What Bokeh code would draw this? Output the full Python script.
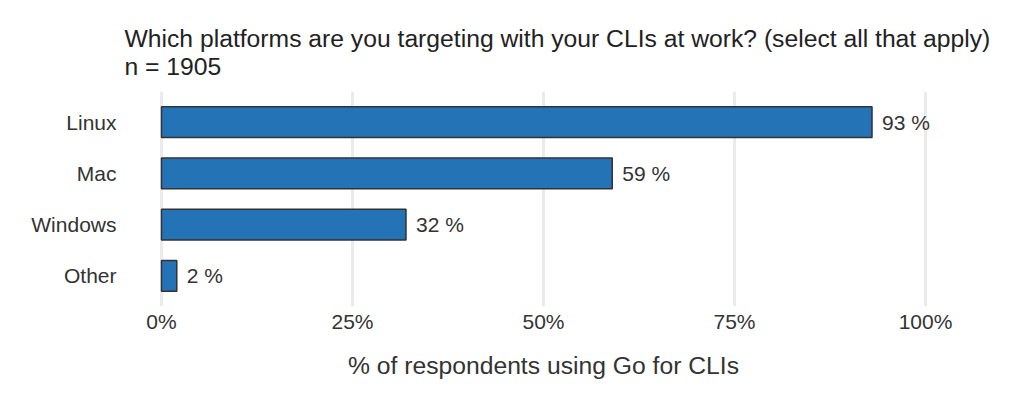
from bokeh.plotting import figure
from bokeh.models import FactorRange, Range1d, NumeralTickFormatter, Title, FixedTicker, ColumnDataSource
from bokeh.embed import file_html
from bokeh.resources import INLINE
from bokeh.core.properties import value

# data
platforms = ["Linux", "Mac", "Windows", "Other"]
shares = [0.93, 0.59, 0.32, 0.02]
share_labels = ["93 %", "59 %", "32 %", "2 %"]
x_ticks = [0.0, 0.25, 0.5, 0.75, 1.0]

title_text = "Which platforms are you targeting with your CLIs at work? (select all that apply)"
subtitle_text = "n = 1905"
x_label = "% of respondents using Go for CLIs"

FONT = "Liberation Sans"
TXT = "#333333"

src = ColumnDataSource(dict(platform=platforms, share=shares, label=share_labels))

p = figure(
    width=1019, height=382,
    y_range=FactorRange(factors=platforms[::-1], range_padding=0.095, range_padding_units="absolute"),
    x_range=Range1d(-11 / 764, 775 / 764),
    output_backend="svg", toolbar_location=None,
    min_border_left=150, min_border_right=83, min_border_top=91, min_border_bottom=76,
)
p.outline_line_color = None
p.background_fill_color = "white"
p.border_fill_color = "white"

p.hbar(y="platform", right="share", left=0, height=0.6, source=src,
       fill_color="#2373b6", line_color="#333333", line_width=1.5)

p.text(x="share", y="platform", text="label", source=src, x_offset=10,
       text_baseline="middle", text_align="left",
       text_font=value(FONT), text_font_size="21px", text_color=TXT)

# grid
p.ygrid.grid_line_color = None
p.xgrid.grid_line_color = "#ebebeb"
p.xgrid.grid_line_width = 3
p.xgrid.ticker = FixedTicker(ticks=x_ticks)

# x axis
xa = p.xaxis[0]
xa.ticker = FixedTicker(ticks=x_ticks)
xa.formatter = NumeralTickFormatter(format="0%")
xa.axis_line_color = None
xa.major_tick_line_color = None
xa.minor_tick_line_color = None
xa.major_tick_out = 0
xa.major_label_standoff = 3
xa.major_label_text_font = FONT
xa.major_label_text_font_size = "21px"
xa.major_label_text_color = TXT
xa.axis_label = x_label
xa.axis_label_text_font = FONT
xa.axis_label_text_font_size = "24.7px"
xa.axis_label_text_font_style = "normal"
xa.axis_label_text_color = TXT
xa.axis_label_standoff = 16

# y axis
ya = p.yaxis[0]
ya.axis_line_color = None
ya.major_tick_line_color = None
ya.minor_tick_line_color = None
ya.major_tick_out = 0
ya.major_label_standoff = 34
ya.major_label_text_font = FONT
ya.major_label_text_font_size = "21px"
ya.major_label_text_color = TXT

# titles (first added is nearest to the plot)
p.add_layout(Title(text=subtitle_text, text_font=FONT, text_font_size="24.7px",
                   text_font_style="normal", text_color="#222222", offset=-26, standoff=24), "above")
p.add_layout(Title(text=title_text, text_font=FONT, text_font_size="24.7px",
                   text_font_style="normal", text_color="#222222", offset=-26, standoff=-27), "above")

open("out.html", "w").write(file_html(p, INLINE))
